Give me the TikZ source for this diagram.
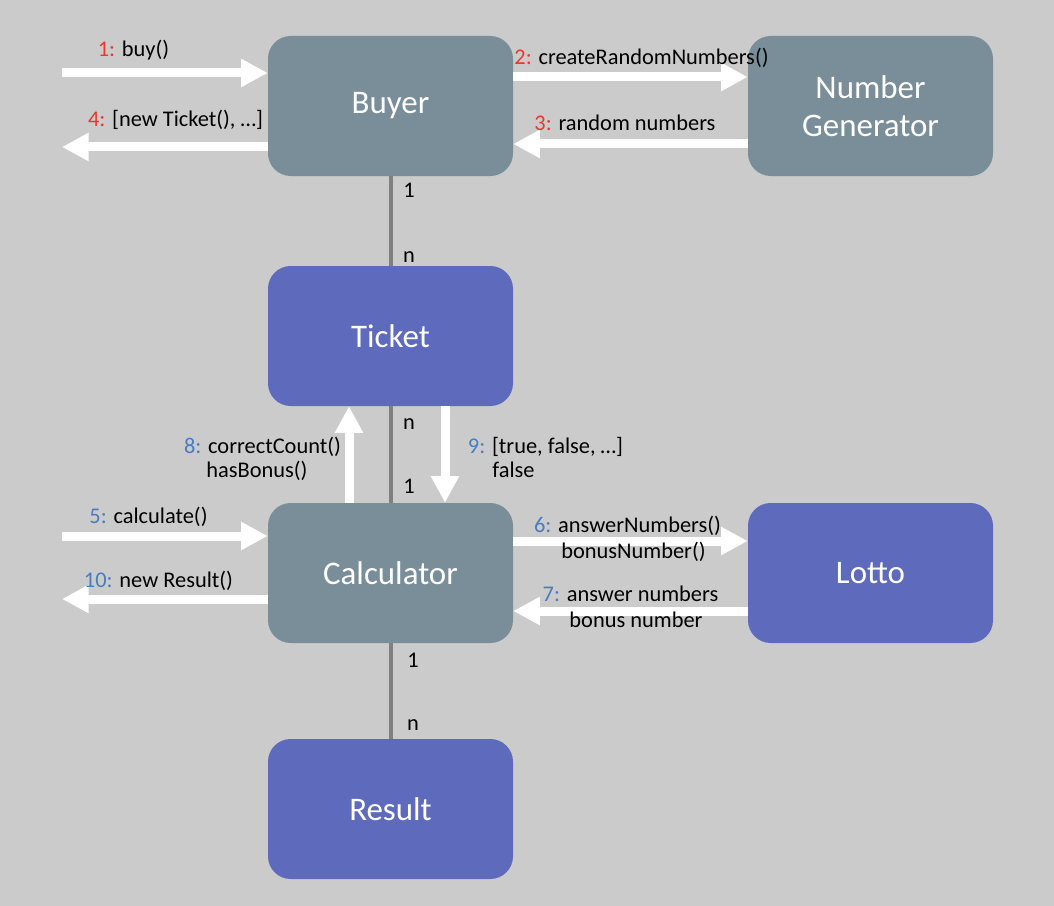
\documentclass[tikz,border=0pt]{standalone}
\usepackage{fontspec}
\setmainfont{Carlito}
\usetikzlibrary{arrows.meta}
\definecolor{bg}{HTML}{CBCBCB}
\definecolor{boxgray}{HTML}{7A8E99}
\definecolor{boxblue}{HTML}{5E6BBD}
\definecolor{numred}{HTML}{E63A2E}
\definecolor{numblue}{HTML}{4A7CBF}
\definecolor{linkgray}{HTML}{808080}
\begin{document}
\begin{tikzpicture}[x=0.75pt,y=-0.75pt,
 box/.style={rounded corners=17pt, minimum width=183.75pt, minimum height=105pt, inner sep=0pt, text=white, font=\fontsize{24.7}{28.5}\selectfont, align=center},
 graybox/.style={box, fill=boxgray},
 bluebox/.style={box, fill=boxblue},
 flow/.style={draw=white, line width=6.75pt, -{Triangle[length=20pt,width=20pt]}},
 link/.style={draw=linkgray, line width=3pt},
 lbl/.style={font=\fontsize{16.8}{20}\selectfont, anchor=base, inner sep=0pt},
]
\useasboundingbox[fill=bg] (0,0) rectangle (1054,906);

% boxes
\node[graybox] (buyer) at (390.5,106) {Buyer};
\node[graybox] (ng) at (870.5,106) {Number\\Generator};
\node[bluebox] (ticket) at (390.5,336) {Ticket};
\node[graybox] (calc) at (390.5,573) {Calculator};
\node[bluebox] (lotto) at (870.5,573) {Lotto};
\node[bluebox] (result) at (390.5,809) {Result};

% free ends
\coordinate (in1) at (62,73);
\coordinate (out4) at (62,147);
\coordinate (in5) at (62,536);
\coordinate (out10) at (62,599);

% association lines
\draw[link] (buyer.south) -- (ticket.north);
\draw[link] (ticket.south) -- (calc.north);
\draw[link] (calc.south) -- (result.north);

% message arrows
\draw[flow] (in1) -- (buyer.west |- in1);
\draw[flow] (buyer.west |- out4) -- (out4);
\draw[flow] (buyer.east |- 0,77) -- (ng.west |- 0,77);
\draw[flow] (ng.west |- 0,144) -- (buyer.east |- 0,144);
\draw[flow] (in5) -- (calc.west |- in5);
\draw[flow] (calc.west |- out10) -- (out10);
\draw[flow] (calc.east |- 0,541) -- (lotto.west |- 0,541);
\draw[flow] (lotto.west |- 0,611) -- (calc.east |- 0,611);
\draw[flow] (calc.north -| 349,0) -- (ticket.south -| 349,0);
\draw[flow] (ticket.south -| 445,0) -- (calc.north -| 445,0);

% multiplicities
\node[lbl] (m1) at (409,197) {1};
\node[lbl] (m2) at (409,262) {n};
\node[lbl] (m3) at (409,429) {n};
\node[lbl] (m4) at (409,493) {1};
\node[lbl] (m5) at (413,667) {1};
\node[lbl] (m6) at (413,730) {n};

% message labels
\node[lbl] (l1) at (133.5,57) {\textcolor{numred}{1:} buy()};
\node[lbl] (l4) at (175.5,127) {\textcolor{numred}{4:} [new Ticket(), …]};
\node[lbl] (l2) at (641.5,65) {\textcolor{numred}{2:} createRandomNumbers()};
\node[lbl] (l3) at (625,131) {\textcolor{numred}{3:} random numbers};
\node[lbl] (l8a) at (262.5,453) {\textcolor{numblue}{8:} correctCount()};
\node[lbl] (l8b) at (257,477) {hasBonus()};
\node[lbl] (l9a) at (545.5,453) {\textcolor{numblue}{9:} [true, false, …]};
\node[lbl] (l9b) at (513.5,477) {false};
\node[lbl] (l5) at (148.5,523) {\textcolor{numblue}{5:} calculate()};
\node[lbl] (l10) at (158.5,587) {\textcolor{numblue}{10:} new Result()};
\node[lbl] (l6a) at (627.5,532) {\textcolor{numblue}{6:} answerNumbers()};
\node[lbl] (l6b) at (633.5,558) {bonusNumber()};
\node[lbl] (l7a) at (630.5,601) {\textcolor{numblue}{7:} answer numbers};
\node[lbl] (l7b) at (636,627) {bonus number};
\end{tikzpicture}
\end{document}
